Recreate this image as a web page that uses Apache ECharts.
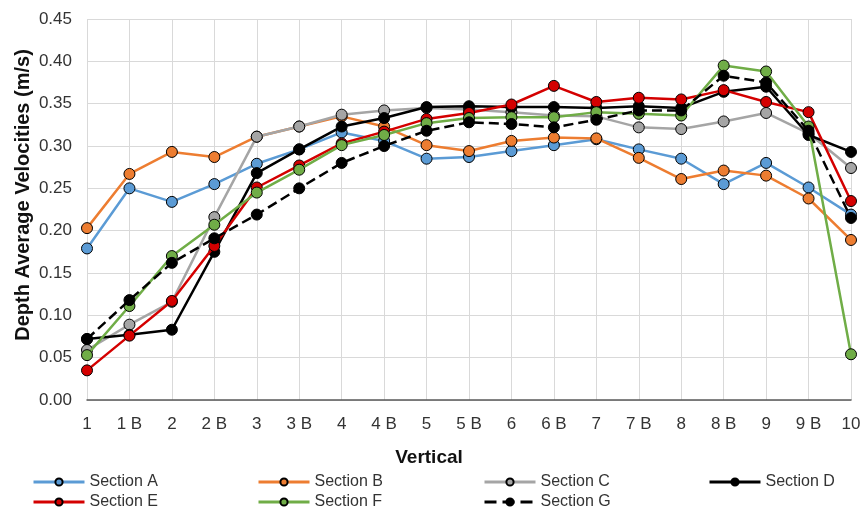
<!DOCTYPE html>
<html>
<head>
<meta charset="utf-8">
<script src="https://cdn.jsdelivr.net/npm/echarts@6/dist/echarts.min.js"></script>
<style>html,body{margin:0;padding:0;background:#fff}#c{width:864px;height:516px}</style>
</head>
<body>
<div id="c"></div>
<script>
var categories = ['1','1 B','2','2 B','3','3 B','4','4 B','5','5 B','6','6 B','7','7 B','8','8 B','9','9 B','10'];
var sectionA = [0.179,0.250,0.234,0.255,0.279,0.296,0.316,0.306,0.285,0.287,0.294,0.301,0.308,0.296,0.285,0.255,0.280,0.251,0.219];
var sectionB = [0.203,0.267,0.293,0.287,0.311,0.323,0.335,0.323,0.301,0.294,0.306,0.310,0.309,0.286,0.261,0.271,0.265,0.238,0.189];
var sectionC = [0.059,0.089,0.116,0.216,0.311,0.323,0.337,0.342,0.345,0.343,0.340,0.336,0.335,0.322,0.320,0.329,0.339,0.315,0.274];
var sectionD = [0.072,0.077,0.083,0.175,0.268,0.296,0.323,0.333,0.346,0.347,0.346,0.346,0.345,0.347,0.345,0.364,0.370,0.313,0.293];
var sectionE = [0.035,0.076,0.117,0.182,0.251,0.277,0.303,0.317,0.332,0.339,0.349,0.371,0.352,0.357,0.355,0.366,0.352,0.340,0.235];
var sectionF = [0.053,0.111,0.170,0.207,0.245,0.272,0.301,0.313,0.327,0.333,0.334,0.334,0.340,0.338,0.336,0.395,0.388,0.323,0.054];
var sectionG = [0.072,0.118,0.162,0.191,0.219,0.250,0.280,0.300,0.318,0.328,0.326,0.322,0.331,0.342,0.342,0.383,0.375,0.318,0.215];
var yTicks = ['0.00','0.05','0.10','0.15','0.20','0.25','0.30','0.35','0.40','0.45'];

var names = ['Section A','Section B','Section C','Section D','Section E','Section F','Section G'];
var datas = [sectionA,sectionB,sectionC,sectionD,sectionE,sectionF,sectionG];
var colors = ['#5b9bd5','#ed7d31','#a5a5a5','#000000','#d40000','#70ad47','#000000'];
var types = ['solid','solid','solid','solid','solid','solid','dashed'];
var legendPos = [[32,474],[257,474],[483,474],[708,474],[32,494],[257,494],[483,494]];

var FONT = 'Liberation Sans, Arial, sans-serif';
var series = names.map(function(n,i){
  return {
    name:n, type:'line', data:datas[i], symbol:'circle', symbolSize:11,
    lineStyle:{color:colors[i], width:2.5, type:types[i]},
    itemStyle:{color:colors[i], borderColor:'#000', borderWidth:1},
    emphasis:{disabled:true}, animation:false, z:2+i
  };
});
var legends = names.map(function(n,i){
  return {
    data:[n], left:legendPos[i][0], top:legendPos[i][1], padding:0, itemWidth:51, itemHeight:9,
    lineStyle:{width:3},
    textStyle:{fontFamily:FONT, fontSize:16, color:'#333'}, selectedMode:false
  };
});

var chart = echarts.init(document.getElementById('c'), null, {renderer:'canvas'});
chart.setOption({
  backgroundColor:'#fff',
  animation:false,
  grid:{left:87, right:13, top:19, bottom:116},
  legend:legends,
  xAxis:{
    type:'category', data:categories, boundaryGap:false,
    axisLine:{lineStyle:{color:'#595959', width:1.5}},
    axisTick:{show:false},
    axisLabel:{fontFamily:FONT, fontSize:17, color:'#333', margin:16, interval:0},
    splitLine:{show:true, lineStyle:{color:'#d9d9d9', width:1}}
  },
  yAxis:{
    type:'value', min:0, max:0.45, interval:0.05,
    axisLine:{show:false}, axisTick:{show:false},
    axisLabel:{fontFamily:FONT, fontSize:17, color:'#333', margin:15,
      formatter:function(v){ var i=Math.round(v/0.05); return yTicks[i]; }},
    splitLine:{lineStyle:{color:'#d9d9d9', width:1}}
  },
  graphic:[{
    type:'text', x:23, y:195, rotation:Math.PI/2,
    style:{text:'Depth Average Velocities (m/s)', font:'bold 20px '+FONT, fill:'#111',
      align:'center', verticalAlign:'middle', textAlign:'center', textVerticalAlign:'middle'}
  },{
    type:'text', x:429, y:458,
    style:{text:'Vertical', font:'bold 19px '+FONT, fill:'#111',
      align:'center', verticalAlign:'middle', textAlign:'center', textVerticalAlign:'middle'}
  }],
  series:series
});
</script>
</body>
</html>
